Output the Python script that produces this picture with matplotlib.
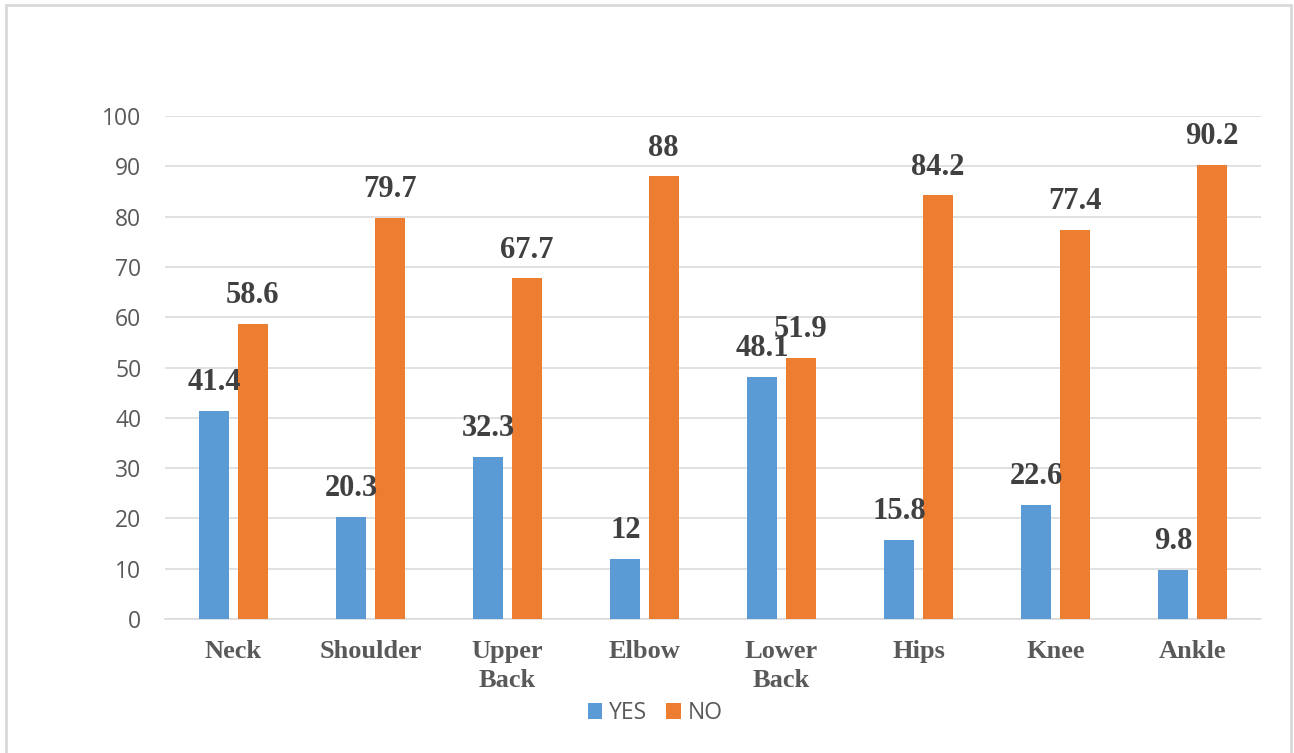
import numpy as np
import matplotlib.pyplot as plt
from matplotlib.patches import Rectangle

categories = ["Neck", "Shoulder", "Upper\nBack", "Elbow", "Lower\nBack", "Hips", "Knee", "Ankle"]
yes_vals = [41.4, 20.3, 32.3, 12, 48.1, 15.8, 22.6, 9.8]
no_vals = [58.6, 79.7, 67.7, 88, 51.9, 84.2, 77.4, 90.2]
yes_labels = ["41.4", "20.3", "32.3", "12", "48.1", "15.8", "22.6", "9.8"]
no_labels = ["58.6", "79.7", "67.7", "88", "51.9", "84.2", "77.4", "90.2"]

blue = "#5B9BD5"
orange = "#ED7D31"
grid_col = "#D9D9D9"
text_col = "#595959"

fig = plt.figure(figsize=(12.94, 7.53), dpi=100)
ax = fig.add_axes([165/1294, 1 - 619/753, (1261 - 165)/1294, (619 - 116)/753])

x = np.arange(len(categories))
w = 0.22
off = 0.14
b1 = ax.bar(x - off, yes_vals, w, color=blue, label="YES", zorder=3)
b2 = ax.bar(x + off, no_vals, w, color=orange, label="NO", zorder=3)

for bars, labs in ((b1, yes_labels), (b2, no_labels)):
    for rect, lab in zip(bars, labs):
        ax.annotate(lab, (rect.get_x() + rect.get_width()/2, rect.get_height()),
                    xytext=(0, 15), textcoords="offset points", ha="center", va="baseline",
                    fontsize=22, fontweight="bold", family="Liberation Serif", color="#404040",
                    zorder=4)

ax.set_xlim(-0.5, len(categories) - 0.5)
ax.set_ylim(0, 100)
ax.set_yticks(range(0, 101, 10))
ax.yaxis.grid(True, color=grid_col, linewidth=1.1, zorder=0)
ax.set_axisbelow(True)
for s in ["top", "right", "left"]:
    ax.spines[s].set_visible(False)
ax.spines["bottom"].set_color(grid_col)
ax.spines["bottom"].set_linewidth(1.1)
ax.tick_params(length=0)
ax.tick_params(axis="y", pad=17, labelsize=16.5, labelcolor=text_col)
ax.tick_params(axis="x", pad=15)
for t in ax.get_yticklabels():
    t.set_family("Open Sans")
ax.set_xticks(x)
ax.set_xticklabels(categories, fontsize=19, fontweight="bold", family="Liberation Serif",
                   color=text_col, linespacing=1.35)

leg = fig.legend(loc="center", bbox_to_anchor=(655/1294, 1 - 713/753), ncol=2, frameon=False,
                 prop={"family": "Open Sans", "size": 16.5}, handlelength=0.65, handleheight=0.65,
                 handletextpad=0.3, columnspacing=0.8)
for t in leg.get_texts():
    t.set_color(text_col)

fig.add_artist(Rectangle((6/1294, -0.1), (1291 - 6)/1294, 1.1 - 5/753, transform=fig.transFigure,
                         fill=False, edgecolor=grid_col, linewidth=2))

fig.savefig("out.png", dpi=100)
